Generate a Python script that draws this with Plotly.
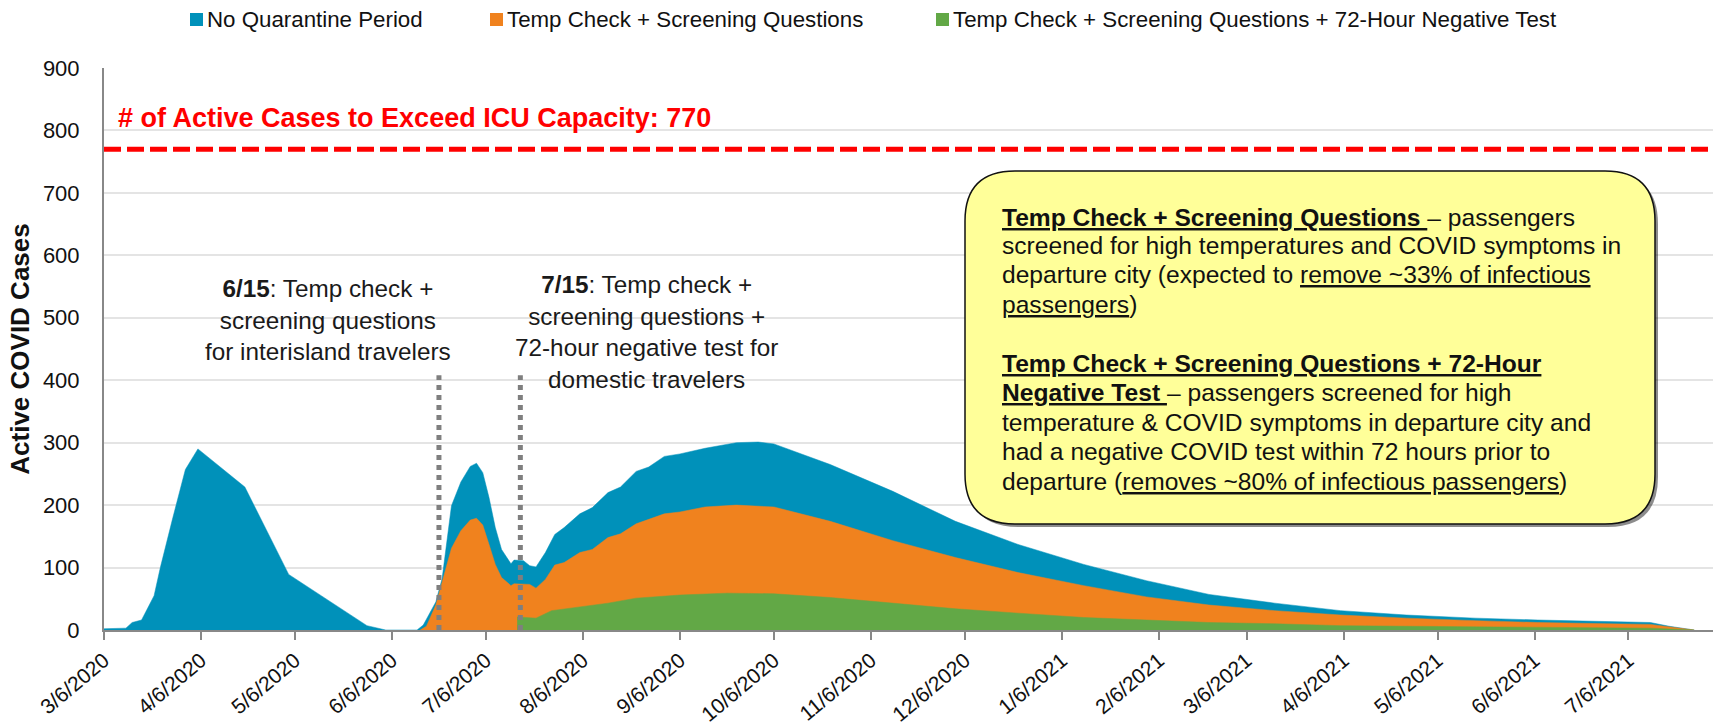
import plotly.graph_objects as go

# ---------------- data ----------------
blue_dates = ["2020-03-06", "2020-03-13", "2020-03-15", "2020-03-18", "2020-03-22", "2020-03-24",
              "2020-03-28", "2020-04-01", "2020-04-05", "2020-04-20", "2020-05-04", "2020-05-29",
              "2020-06-04", "2020-06-14", "2020-06-16", "2020-06-20", "2020-06-22", "2020-06-25",
              "2020-06-28", "2020-07-01", "2020-07-03", "2020-07-05", "2020-07-07", "2020-07-09",
              "2020-07-11", "2020-07-14", "2020-07-15", "2020-07-18", "2020-07-20", "2020-07-22",
              "2020-07-25", "2020-07-28", "2020-07-31", "2020-08-05", "2020-08-09", "2020-08-14",
              "2020-08-18", "2020-08-23", "2020-08-27", "2020-09-01", "2020-09-06", "2020-09-14",
              "2020-09-24", "2020-10-01", "2020-10-06", "2020-10-24", "2020-11-13", "2020-12-03",
              "2020-12-23", "2021-01-13", "2021-02-02", "2021-02-22", "2021-03-15", "2021-04-05",
              "2021-04-26", "2021-05-18", "2021-06-07", "2021-06-29", "2021-07-13", "2021-07-19",
              "2021-07-27"]
blue_vals = [2, 3, 12, 16, 55, 100,
             180, 257, 290, 229, 89, 7,
             0, 0, 8, 45, 82, 199,
             237, 262, 267, 252, 212, 164,
             129, 106, 112, 111, 103, 101,
             124, 153, 164, 186, 196, 220,
             229, 254, 261, 278, 282, 291,
             300, 301, 298, 265, 222, 174,
             137, 105, 79, 57, 43, 31,
             24, 19, 16, 14, 12, 6,
             0]

orange_dates = ["2020-06-15", "2020-06-17", "2020-06-20", "2020-06-22", "2020-06-25", "2020-06-28",
                "2020-07-01", "2020-07-03", "2020-07-05", "2020-07-07", "2020-07-09", "2020-07-11",
                "2020-07-14", "2020-07-15", "2020-07-20", "2020-07-22", "2020-07-25", "2020-07-28",
                "2020-07-31", "2020-08-05", "2020-08-09", "2020-08-14", "2020-08-18", "2020-08-23",
                "2020-09-01", "2020-09-06", "2020-09-14", "2020-09-24", "2020-10-06", "2020-10-24",
                "2020-11-13", "2020-12-03", "2020-12-23", "2021-01-13", "2021-02-02", "2021-02-22",
                "2021-03-15", "2021-04-05", "2021-04-26", "2021-05-18", "2021-06-07", "2021-06-29",
                "2021-07-13", "2021-07-27"]
orange_vals = [0, 6, 40, 78, 131, 159,
               176, 179, 168, 137, 105, 84,
               71, 74, 73, 67, 81, 104,
               108, 124, 129, 148, 154, 170,
               186, 189, 197, 200, 197, 174,
               143, 116, 92, 71, 53, 40,
               31, 24, 19, 15, 12, 10,
               9, 0]

green_dates = ["2020-07-16", "2020-07-22", "2020-07-27", "2020-08-05", "2020-08-14", "2020-08-23",
               "2020-09-06", "2020-09-21", "2020-10-06", "2020-10-24", "2020-11-13", "2020-12-03",
               "2020-12-23", "2021-01-13", "2021-02-02", "2021-02-22", "2021-03-15", "2021-04-05",
               "2021-04-26", "2021-05-18", "2021-06-07", "2021-06-29", "2021-07-13", "2021-07-27"]
green_vals = [21, 19, 31, 37, 43, 51,
              56, 59, 58, 52, 43, 34,
              27, 20, 16, 12, 10, 7,
              6, 5, 4, 3, 3, 0]

series_names = ["No Quarantine Period", "Temp Check + Screening Questions",
                "Temp Check + Screening Questions + 72-Hour Negative Test"]
series_colors = ["#0091BA", "#F0821E", "#62A846"]

icu_capacity = 770
policy_dates = ["2020-06-21", "2020-07-17"]
policy_line_top = 408

x_range = ["2020-03-06", "2021-08-02"]
y_range = [0, 900]

FONT = "Liberation Sans, Arial, sans-serif"

# ---------------- geometry helpers (pixels -> paper) ----------------
W, H = 1713, 726
ML, MR, MT, MB = 104, 0, 68, 96
PW, PH = W - ML - MR, H - MT - MB


def px(x):
    return (x - ML) / PW


def py(y):
    return (H - MB - y) / PH


fig = go.Figure()
for dates, vals, name, col in zip([blue_dates, orange_dates, green_dates],
                                   [blue_vals, orange_vals, green_vals],
                                   series_names, series_colors):
    fig.add_trace(go.Scatter(x=dates, y=vals, name=name, mode="lines", fill="tozeroy",
                             line=dict(color=col, width=0.5), fillcolor=col,
                             showlegend=False, hoverinfo="x+y+name"))

shapes = []
annotations = []

# ICU capacity line
shapes.append(dict(type="line", xref="paper", x0=0, x1=1, yref="y", y0=icu_capacity, y1=icu_capacity,
                   line=dict(color="#FF0000", width=5, dash="17px,6px"), layer="above"))
annotations.append(dict(xref="paper", yref="y", x=px(116), y=820, xanchor="left", yanchor="middle",
                        text="<b># of Active Cases to Exceed ICU Capacity: %d</b>" % icu_capacity,
                        showarrow=False, font=dict(family=FONT, size=27, color="#FF0000")))

# policy lines
for d in policy_dates:
    shapes.append(dict(type="line", xref="x", x0=d, x1=d, yref="y", y0=0, y1=policy_line_top,
                       line=dict(color="#7F7F7F", width=5, dash="5px,5px"), layer="above"))

annotations.append(dict(xref="paper", yref="paper", x=px(328), y=py(320), xanchor="center", yanchor="middle",
                        text="<b>6/15</b>: Temp check +<br>screening questions<br>for interisland travelers",
                        showarrow=False, align="center", font=dict(family=FONT, size=24.3, color="#1A1A1A")))
annotations.append(dict(xref="paper", yref="paper", x=px(646), y=py(332), xanchor="center", yanchor="middle",
                        text="<b>7/15</b>: Temp check +<br>screening questions +<br>72-hour negative test for<br>domestic travelers",
                        showarrow=False, align="center", font=dict(family=FONT, size=24.3, color="#1A1A1A")))


# rounded yellow box
def rounded_path(x0, y0, x1, y1, r):
    X0, X1 = px(x0), px(x1)
    Yt, Yb = py(y0), py(y1)
    rx, ry = r / PW, r / PH
    return (f"M {X0+rx},{Yt} L {X1-rx},{Yt} Q {X1},{Yt} {X1},{Yt-ry} "
            f"L {X1},{Yb+ry} Q {X1},{Yb} {X1-rx},{Yb} L {X0+rx},{Yb} Q {X0},{Yb} {X0},{Yb+ry} "
            f"L {X0},{Yt-ry} Q {X0},{Yt} {X0+rx},{Yt} Z")


shapes.append(dict(type="path", xref="paper", yref="paper", path=rounded_path(968, 174, 1658, 527, 50),
                   fillcolor="rgba(0,0,0,0.45)", line=dict(width=0), layer="above"))
shapes.append(dict(type="path", xref="paper", yref="paper", path=rounded_path(965, 171, 1655, 524, 50),
                   fillcolor="#FFFF99", line=dict(color="#111111", width=1.5), layer="above"))

box_lines = [
    (217, "<u><b>Temp Check + Screening Questions </b></u>– passengers"),
    (245.5, "screened for high temperatures and COVID symptoms in"),
    (274, "departure city (expected to <u>remove ~33% of infectious</u>"),
    (304, "<u>passengers</u>)"),
    (363.5, "<u><b>Temp Check + Screening Questions + 72-Hour</b></u>"),
    (392.5, "<u><b>Negative Test </b></u>– passengers screened for high"),
    (422, "temperature &amp; COVID symptoms in departure city and"),
    (451, "had a negative COVID test within 72 hours prior to"),
    (481, "departure (<u>removes ~80% of infectious passengers</u>)"),
]
for yy, t in box_lines:
    annotations.append(dict(xref="paper", yref="paper", x=px(1000), y=py(yy), xanchor="left", yanchor="middle",
                            text=t, showarrow=False, align="left",
                            font=dict(family=FONT, size=24.6, color="#111111")))

# legend (top)
legend_x = [190, 490, 936]
for lx, name, col in zip(legend_x, series_names, series_colors):
    shapes.append(dict(type="rect", xref="paper", yref="paper", x0=px(lx), x1=px(lx + 13),
                       y0=py(26), y1=py(13), fillcolor=col, line=dict(width=0)))
    annotations.append(dict(xref="paper", yref="paper", x=px(lx + 15), y=py(19.5), xanchor="left",
                            yanchor="middle", text=name, showarrow=False,
                            font=dict(family=FONT, size=22.3, color="#111111")))

fig.update_layout(
    width=W, height=H,
    margin=dict(l=ML, r=MR, t=MT, b=MB),
    paper_bgcolor="white", plot_bgcolor="white",
    showlegend=False,
    shapes=shapes, annotations=annotations,
    font=dict(family=FONT, color="#111111"),
)
fig.update_xaxes(type="date", range=x_range, tick0="2020-03-06", dtick="M1", tickformat="%-m/%-d/%Y",
                 tickangle=-40, ticks="outside", ticklen=8, tickwidth=1.5, tickcolor="#888888",
                 showline=True, linecolor="#888888", linewidth=2, showgrid=False, zeroline=False,
                 tickfont=dict(family=FONT, size=21, color="#111111"), automargin=False)
fig.update_yaxes(range=y_range, dtick=100, showgrid=True, gridcolor="#E4E4E4", gridwidth=1.5,
                 showline=True, linecolor="#888888", linewidth=2, zeroline=False, ticks="",
                 ticklabelstandoff=18,
                 tickfont=dict(family=FONT, size=22, color="#111111"), automargin=False,
                 title=dict(text="<b>Active COVID Cases</b>", standoff=6,
                            font=dict(family=FONT, size=26, color="#111111")))

fig.write_html("out.html", config={"displayModeBar": False},
               post_script="document.body.style.margin='0';document.body.style.overflow='hidden';")
